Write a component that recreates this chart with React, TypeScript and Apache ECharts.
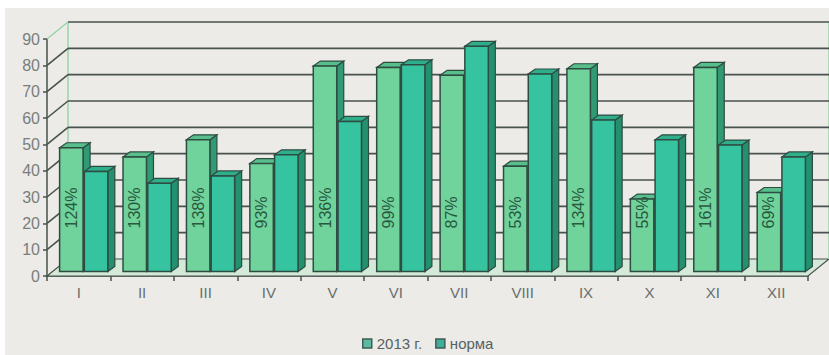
import React, { useEffect, useRef } from "react";
import * as echarts from "echarts";

const months = ["I", "II", "III", "IV", "V", "VI", "VII", "VIII", "IX", "X", "XI", "XII"];
const values2013 = [47, 43.5, 50, 41, 78, 77.5, 74.5, 40, 77, 27.5, 77.5, 30];
const valuesNorm = [38, 33.5, 36.3, 44.3, 57, 78.5, 85.5, 75, 57.5, 50, 48, 43.5];
const pctLabels = ["124%", "130%", "138%", "93%", "136%", "99%", "87%", "53%", "134%", "55%", "161%", "69%"];
const yTicks = [0, 10, 20, 30, 40, 50, 60, 70, 80, 90];
const seriesNames = ["2013 г.", "норма"];

const FONT = "'Liberation Sans', Arial, sans-serif";
const DX = 21, DY = -17; // wall depth
const BDX = 5, BDY = -4.5; // bar placement depth
const SDX = 7, SDY = -5; // bar thickness
const LINE = "#48524e";
const EDGE = "#2f4c42";

const palette = [
  { front: "#6fd39b", side: "#2f9a74", top: "#58bf8c" },
  { front: "#35c3a0", side: "#23906f", top: "#2fae8c" },
];

function wallRender(params: any, api: any) {
  const cs = params.coordSys;
  const x0 = cs.x, x1 = cs.x + cs.width;
  const v = api.value(1);
  const y = api.coord([0, v])[1];
  const children: any[] = [];
  if (v === 0) {
    children.push({
      type: "polygon",
      shape: { points: [[x0, y], [x1, y], [x1 + DX, y + DY], [x0 + DX, y + DY]] },
      style: { fill: "#d4e9d8", stroke: LINE, lineWidth: 1.2 },
    });
    const yTop = api.coord([0, yTicks[yTicks.length - 1]])[1];
    children.push({
      type: "line",
      shape: { x1: x0 + DX, y1: y + DY, x2: x0 + DX, y2: yTop + DY },
      style: { stroke: "#9ad5a8", lineWidth: 1.5 },
    });
    children.push({
      type: "line",
      shape: { x1: x1 + DX, y1: y + DY, x2: x1 + DX, y2: yTop + DY },
      style: { stroke: "#9ad5a8", lineWidth: 1.5 },
    });
  } else {
    const isTop = v === yTicks[yTicks.length - 1];
    children.push({
      type: "line",
      shape: { x1: x0, y1: y, x2: x0 + DX, y2: y + DY },
      style: { stroke: isTop ? "#9ad5a8" : LINE, lineWidth: 1.6 },
    });
    children.push({
      type: "line",
      shape: { x1: x0 + DX, y1: y + DY, x2: x1 + DX, y2: y + DY },
      style: { stroke: LINE, lineWidth: 1.6 },
    });
  }
  return { type: "group", children };
}

function makeBarRender(kind: number) {
  return (params: any, api: any) => {
    const idx = api.value(0);
    const v = api.value(1);
    const p = api.coord([idx, v]);
    const y0 = api.coord([idx, 0])[1];
    const band = api.size([1, 0])[0];
    const w = band * 0.37;
    const gap = band * 0.02;
    const c = p[0] + BDX;
    const xl = kind === 0 ? c - w - gap / 2 : c + gap / 2;
    const xr = xl + w;
    const yt = p[1] + BDY;
    const yb = y0 + BDY;
    const col = palette[kind];
    const children: any[] = [
      {
        type: "polygon",
        shape: { points: [[xr, yt], [xr + SDX, yt + SDY], [xr + SDX, yb + SDY], [xr, yb]] },
        style: { fill: col.side, stroke: EDGE, lineWidth: 1.2 },
      },
      {
        type: "polygon",
        shape: { points: [[xl, yt], [xl + SDX, yt + SDY], [xr + SDX, yt + SDY], [xr, yt]] },
        style: { fill: col.top, stroke: EDGE, lineWidth: 1.2 },
      },
      {
        type: "rect",
        shape: { x: xl, y: yt, width: w, height: yb - yt },
        style: { fill: col.front, stroke: EDGE, lineWidth: 1.5 },
      },
    ];
    if (kind === 0) {
      children.push({
        type: "text",
        x: (xl + xr) / 2,
        y: yb - 43,
        rotation: Math.PI / 2,
        style: {
          text: pctLabels[params.dataIndex],
          fill: "#28583f",
          font: `16px ${FONT}`,
          align: "left",
          verticalAlign: "middle",
        },
      });
    }
    return { type: "group", children };
  };
}

export default function App() {
  const ref = useRef<HTMLDivElement>(null);
  useEffect(() => {
    if (!ref.current) return;
    const chart = echarts.init(ref.current, undefined, { renderer: "svg" });
    chart.setOption({
      animation: false,
      backgroundColor: "#ffffff",
      graphic: [
        {
          type: "rect",
          left: 5,
          top: 8,
          shape: { width: 824, height: 347 },
          style: { fill: "#ecebe7" },
          z: -10,
          silent: true,
        },
      ],
      grid: { left: 47, right: 21, top: 39, bottom: 79, containLabel: false },
      legend: {
        left: 357,
        top: 331,
        icon: "rect",
        itemWidth: 9,
        itemHeight: 9,
        itemGap: 13,
        textStyle: { fontSize: 15, color: "#56625f", fontFamily: FONT },
        itemStyle: { borderColor: "#3d5e55", borderWidth: 1.5 },
        data: seriesNames,
      },
      xAxis: {
        type: "category",
        data: months,
        axisLine: { show: true, lineStyle: { color: LINE, width: 1.5 } },
        axisTick: { show: true, length: 5, lineStyle: { color: LINE, width: 1.5 } },
        axisLabel: { fontSize: 15, color: "#6a6f6e", margin: 9, fontFamily: FONT },
        splitLine: { show: false },
      },
      yAxis: {
        type: "value",
        min: 0,
        max: 90,
        interval: 10,
        axisLine: { show: true, lineStyle: { color: LINE, width: 1.5 } },
        axisTick: { show: true, length: 4, lineStyle: { color: LINE, width: 1.5 } },
        axisLabel: { fontSize: 16, color: "#7a7d7c", margin: 7, fontFamily: FONT },
        splitLine: { show: false },
      },
      series: [
        {
          name: "wall",
          type: "custom",
          renderItem: wallRender,
          data: yTicks.map((v) => [0, v]),
          encode: { x: 0, y: 1 },
          z: 1,
          silent: true,
        },
        {
          name: seriesNames[0],
          type: "custom",
          renderItem: makeBarRender(0),
          data: values2013.map((v, i) => [i, v]),
          encode: { x: 0, y: 1 },
          itemStyle: { color: "#5fb9a0" },
          z: 2,
        },
        {
          name: seriesNames[1],
          type: "custom",
          renderItem: makeBarRender(1),
          data: valuesNorm.map((v, i) => [i, v]),
          encode: { x: 0, y: 1 },
          itemStyle: { color: "#3fae9a" },
          z: 3,
        },
      ],
    });
    return () => chart.dispose();
  }, []);
  return (
    <div
      ref={ref}
      style={{ position: "fixed", left: 0, top: 0, width: 829, height: 355 }}
    />
  );
}
